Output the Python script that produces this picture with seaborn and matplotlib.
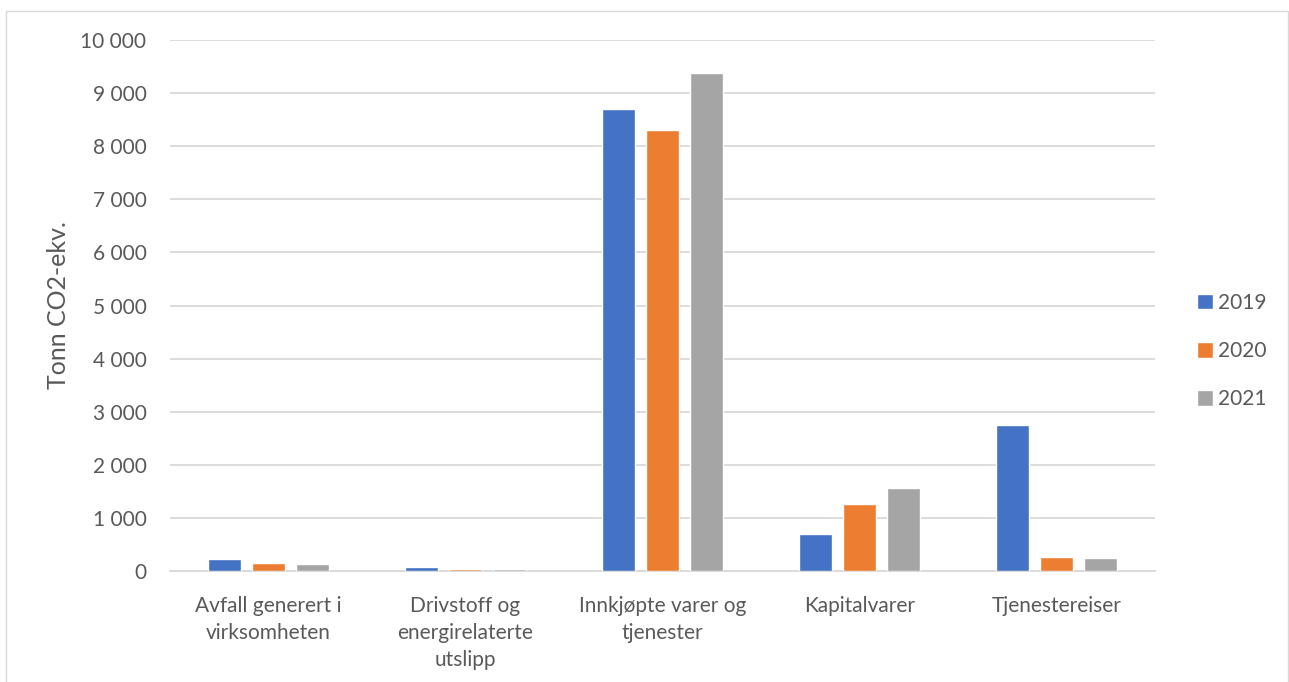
import matplotlib
matplotlib.use("Agg")
import matplotlib.pyplot as plt
from matplotlib.patches import Rectangle
import matplotlib.ticker as mticker
import seaborn as sns
import pandas as pd

categories = [
    "Avfall generert i\nvirksomheten",
    "Drivstoff og\nenergirelaterte\nutslipp",
    "Innkjøpte varer og\ntjenester",
    "Kapitalvarer",
    "Tjenestereiser",
]
years = ["2019", "2020", "2021"]
values_2019 = [225, 70, 8700, 690, 2750]
values_2020 = [145, 35, 8300, 1255, 265]
values_2021 = [125, 35, 9380, 1560, 240]
yticks = list(range(0, 10001, 1000))

colors = ["#4472C4", "#ED7D31", "#A5A5A5"]
text_color = "#595959"
grid_color = "#D9D9D9"

df = pd.DataFrame({
    "Kategori": categories * 3,
    "År": [y for y in years for _ in categories],
    "Verdi": values_2019 + values_2020 + values_2021,
})

sns.set_theme(style="white")
plt.rcParams["font.family"] = ["Lato", "DejaVu Sans"]

fig = plt.figure(figsize=(12.89, 6.82), dpi=100)
ax = fig.add_axes([0.1319, 0.1628, 0.896 - 0.1319, 0.9413 - 0.1628])

sns.barplot(data=df, x="Kategori", y="Verdi", hue="År", palette=colors,
            width=0.67, gap=0.23, ax=ax, saturation=1, legend=True)

ax.set_ylim(0, 10000)
ax.set_yticks(yticks)
ax.yaxis.set_major_formatter(mticker.FuncFormatter(lambda v, p: f"{int(v):,}".replace(",", " ")))
ax.grid(axis="y", color=grid_color, linewidth=1.3)
ax.set_axisbelow(True)
for side in ["top", "right", "left"]:
    ax.spines[side].set_visible(False)
ax.spines["bottom"].set_color(grid_color)
ax.spines["bottom"].set_linewidth(1.3)
ax.spines["bottom"].set_zorder(0.5)
ax.tick_params(axis="both", length=0, labelsize=15, colors=text_color)
ax.tick_params(axis="y", pad=17)
ax.tick_params(axis="x", pad=18)
for lbl in ax.get_xticklabels():
    lbl.set_linespacing(1.45)
    lbl.set_horizontalalignment("center")

ax.set_xlabel("")
ax.set_ylabel("Tonn CO2-ekv.", fontsize=18, color=text_color)
ax.yaxis.set_label_coords(-0.102, 0.5)

handles, labels = ax.get_legend_handles_labels()
ax.legend(handles, labels, loc="center left", bbox_to_anchor=(1.024, 0.414),
          frameon=False, fontsize=15, labelcolor=text_color,
          handlelength=0.75, handleheight=0.75, handletextpad=0.25,
          labelspacing=1.35)

fig.add_artist(Rectangle((6 / 1289, -0.01), (1288 - 6) / 1289, 1 - 11 / 682 + 0.01,
                         transform=fig.transFigure, fill=False,
                         edgecolor=grid_color, linewidth=1.0))

fig.savefig("out.png", dpi=100, facecolor="white")
